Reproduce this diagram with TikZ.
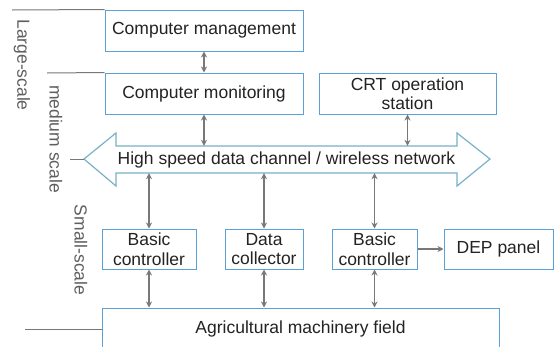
\documentclass[tikz,border=0pt]{standalone}
\usepackage{fontspec}
\setmainfont{Liberation Sans}
\usetikzlibrary{arrows.meta}
\definecolor{boxblue}{RGB}{91,160,215}
\definecolor{chanteal}{RGB}{120,178,198}
\definecolor{conngray}{RGB}{120,120,120}
\definecolor{labgray}{RGB}{95,95,95}
\definecolor{txt}{RGB}{35,35,35}
\begin{document}
\begin{tikzpicture}[x=1pt,y=-1pt,
  box/.style={draw=boxblue,line width=1pt,rectangle,inner sep=0pt,align=center,text=txt,font=\fontsize{17.5}{19.5}\selectfont},
  conn/.style={draw=conngray,line width=1.2pt,{Stealth[length=6pt,width=6pt]}-{Stealth[length=6pt,width=6pt]}},
  oneway/.style={draw=conngray,line width=1.2pt,-{Stealth[length=6pt,width=6pt]}},
  side/.style={draw=conngray,line width=1pt},
  lab/.style={text=labgray,font=\fontsize{17.5}{19.5}\selectfont,rotate=-90,inner sep=0pt}]
\useasboundingbox (0,0) rectangle (554,346);
\clip (0,0) rectangle (554,346);
\fill[white] (0,0) rectangle (554,346);
% boxes
\node[box,minimum width=198pt,minimum height=41pt] (mgmt) at (204,30.5) {Computer management};
\node[box,minimum width=198pt,minimum height=41pt] (mon) at (204,93.5) {Computer monitoring};
\node[box,minimum width=177pt,minimum height=41pt] (crt) at (407.5,93.5) {CRT operation\\station};
\node[box,minimum width=94pt,minimum height=40pt] (bc1) at (149,249) {Basic\\controller};
\node[box,minimum width=78pt,minimum height=40pt] (dc) at (264,249) {Data\\collector};
\node[box,minimum width=85pt,minimum height=40pt] (bc2) at (374.5,249) {Basic\\controller};
\node[box,minimum width=109pt,minimum height=40pt] (dep) at (498.5,249) {DEP panel};
\node[box,minimum width=397pt,minimum height=42pt] (field) at (300.5,329) {Agricultural machinery field};
% channel
\draw[chanteal,line width=1.2pt,line join=miter] (84,159) -- (116,133) -- (116,146) -- (457,146) -- (457,133) -- (490,159) -- (457,186) -- (457,173) -- (116,173) -- (116,186) -- cycle;
\node[inner sep=0pt,minimum width=341pt,minimum height=27pt,text=txt,font=\fontsize{17.5}{19.5}\selectfont] (chan) at (286.5,159.5) {High speed data channel / wireless network};
\coordinate (chtip) at (84,159);
% connectors
\draw[conn] (mgmt.south) -- (mon.north);
\draw[conn] (mon.south) -- (mon.south |- chan.north);
\draw[conn] (crt.south) -- (crt.south |- chan.north);
\draw[conn] (chan.south -| bc1.north) -- (bc1.north);
\draw[conn] (chan.south -| dc.north) -- (dc.north);
\draw[conn] (chan.south -| bc2.north) -- (bc2.north);
\draw[conn] (bc1.south) -- (bc1.south |- field.north);
\draw[conn] (dc.south) -- (dc.south |- field.north);
\draw[conn] (bc2.south) -- (bc2.south |- field.north);
\draw[oneway] (bc2.east) -- (dep.west);
% side scale lines
\coordinate (s1) at (12,10);
\coordinate (s2) at (47,73);
\coordinate (s3) at (70,159);
\coordinate (s4) at (25,329);
\draw[side] (s1) -- (mgmt.north west);
\draw[side] (s2) -- (mon.north west);
\draw[side] (s3) -- (chtip);
\draw[side] (s4) -- (s4 -| field.west);
% scale labels
\node[lab] (large) at (22,65) {Large-scale};
\node[lab] (medium) at (56,139) {medium scale};
\node[lab] (small) at (81,250) {Small-scale};
\end{tikzpicture}
\end{document}
